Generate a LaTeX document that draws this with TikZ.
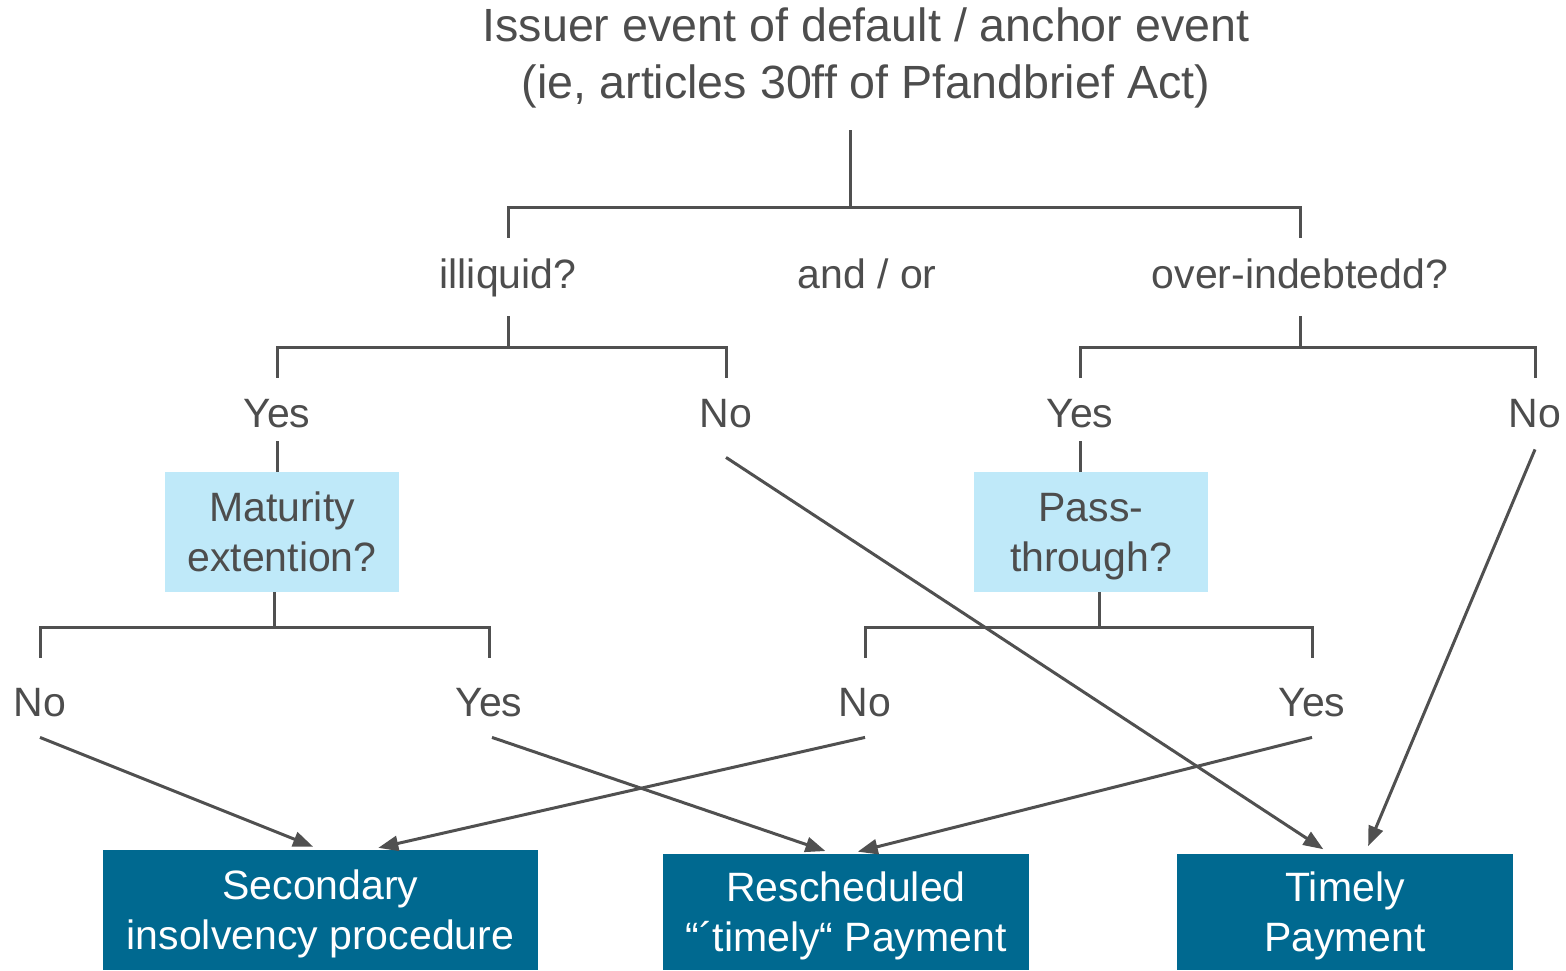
\documentclass[tikz,border=0pt]{standalone}
\usepackage{fontspec}
\setmainfont{Liberation Sans}
\usetikzlibrary{arrows.meta}
\definecolor{txtgray}{HTML}{4D4D4D}
\definecolor{linegray}{HTML}{505050}
\definecolor{paleblue}{HTML}{BFE9F9}
\definecolor{deepblue}{HTML}{006990}
\begin{document}
\begin{tikzpicture}[x=0.5pt,y=-0.5pt,
    lbl/.style={text=txtgray,inner sep=0pt,align=center,font=\fontsize{20.5}{25}\selectfont},
    rowa/.style={lbl,anchor=base,text height=25pt,text depth=14pt},
    rowb/.style={lbl,anchor=base,text height=24.5pt,text depth=7pt},
    rowc/.style={lbl,anchor=base,text height=29pt,text depth=10.5pt},
    qbox/.style={lbl,fill=paleblue,text depth=0pt,minimum width=117pt,minimum height=60pt},
    endbox/.style={lbl,text=white,fill=deepblue,text depth=0pt,minimum height=58pt},
    tree/.style={draw=linegray,line width=1.5pt},
    arr/.style={draw=linegray,line width=1.5pt,-{Triangle[length=10pt,width=7.5pt]},shorten >=4pt}]
      \useasboundingbox (0,0) rectangle (1566,970);
      % top question
      \node[lbl,font=\fontsize{23.3}{28.6}\selectfont] (top) at (866,58) {Issuer event of default / anchor event\\(ie, articles 30ff of Pfandbrief Act)};
      \node[rowa] (illiq) at (508,288) {illiquid?};
      \node[rowa] (andor) at (867,288) {and / or};
      \node[rowa] (overind) at (1300,288) {over-indebtedd?};
      \node[rowb] (yes1) at (277,427) {Yes};
      \node[rowb] (no1) at (726,427) {No};
      \node[rowb] (yes2) at (1080,427) {Yes};
      \node[rowb] (no2) at (1535,427) {No};
      \node[qbox] (mat) at (282,532) {Maturity\\extention?};
      \node[qbox] (pass) at (1091,532) {Pass-\\through?};
      \node[rowc] (no3) at (40,716) {No};
      \node[rowc] (yes3) at (489,716) {Yes};
      \node[rowc] (no4) at (865,716) {No};
      \node[rowc] (yes4) at (1312,716) {Yes};
      % outcomes
      \node[endbox,minimum width=217.5pt,minimum height=60pt] (sec) at (320.5,910) {Secondary\\insolvency procedure};
      \node[endbox,minimum width=183pt] (res) at (846,912) {Rescheduled\\“´timely“ Payment};
      \node[endbox,minimum width=168pt] (tim) at (1345,912) {Timely\\Payment};
      % tree lines
      \coordinate (t0) at (850,130);
      \coordinate (j0) at (850,207);
      \coordinate (j1) at (508,347);
      \coordinate (j2) at (1300,347);
      \coordinate (j3) at (274,627);
      \coordinate (j4) at (1099,627);
      \draw[tree] (t0) -- (j0);
      \draw[tree] (illiq.north) |- (j0) -| (overind.north);
      \draw[tree] (illiq.south) -- (j1);
      \draw[tree] (yes1.north) |- (j1) -| (no1.north);
      \draw[tree] (overind.south) -- (j2);
      \draw[tree] (yes2.north) |- (j2) -| (no2.north);
      \draw[tree] (yes1.south) -- (yes1.south |- mat.north);
      \draw[tree] (yes2.south) -- (yes2.south |- pass.north);
      \draw[tree] (j3 |- mat.south) -- (j3);
      \draw[tree] (no3.north) |- (j3) -| (yes3.north);
      \draw[tree] (j4 |- pass.south) -- (j4);
      \draw[tree] (no4.north) |- (j4) -| (yes4.north);
      % arrows to outcomes
      \draw[arr] (no3.south) -- (sec.north);
      \draw[arr] (no4.south) -- ([xshift=25pt]sec.north);
      \draw[arr] ([xshift=1.5pt]yes3.south) -- ([xshift=-6.5pt]res.north);
      \draw[arr] (yes4.south) -- ([xshift=2pt]res.north);
      \draw[arr] ([yshift=-8pt]no1.south) -- ([xshift=-7.5pt]tim.north);
      \draw[arr] ([yshift=-4pt]no2.south) -- ([xshift=10pt]tim.north);
    \end{tikzpicture}
\end{document}
